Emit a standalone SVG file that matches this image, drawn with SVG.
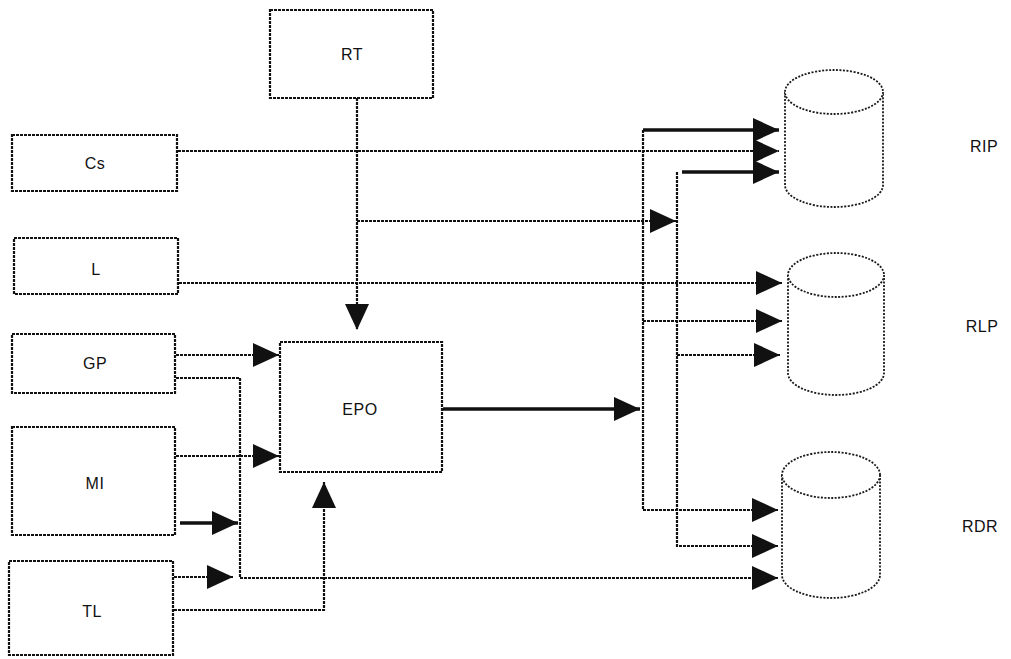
<svg xmlns="http://www.w3.org/2000/svg" width="1011" height="659" viewBox="0 0 1011 659">
<style>
.box{fill:#fff;stroke:#111;stroke-width:2.2;stroke-dasharray:3 1}
.cyl{fill:#fff;stroke:#1a1a1a;stroke-width:1.8;stroke-dasharray:2 1.5}
.ln{fill:none;stroke:#111;stroke-width:2.2;stroke-dasharray:3 1}
.thick{fill:none;stroke:#111;stroke-width:3.4}
.lbl{font-family:"Liberation Sans",Arial,sans-serif;font-size:16px;fill:#111;text-anchor:middle;letter-spacing:0.5px}
</style>
<defs>
<marker id="ah" viewBox="0 0 26 24" refX="26" refY="12" markerWidth="26" markerHeight="24" markerUnits="userSpaceOnUse" orient="auto">
<path d="M0,0 L26,12 L0,24 z" fill="#111"/>
</marker>
</defs>
<rect width="1011" height="659" fill="#fff"/>
<g id="connectors">
<path class="ln" d="M357,98 V330" marker-end="url(#ah)"/>
<path class="ln" d="M357,221 H676" marker-end="url(#ah)"/>
<path class="ln" d="M178,151 H779" marker-end="url(#ah)"/>
<path class="ln" d="M179,283 H782" marker-end="url(#ah)"/>
<path class="ln" d="M176,355 H279" marker-end="url(#ah)"/>
<path class="ln" d="M176,378 H240 V578 H778" marker-end="url(#ah)"/>
<path class="ln" d="M176,456 H279" marker-end="url(#ah)"/>
<path class="thick" d="M180,523 H238" marker-end="url(#ah)"/>
<path class="ln" d="M174,577 H233" marker-end="url(#ah)"/>
<path class="ln" d="M174,610 H324 V482" marker-end="url(#ah)"/>
<path class="thick" d="M443,409 H640" marker-end="url(#ah)"/>
<path class="thick" d="M643,130 H779" marker-end="url(#ah)"/>
<path class="ln" d="M643,130 V510 H778" marker-end="url(#ah)"/>
<path class="ln" d="M643,321 H782" marker-end="url(#ah)"/>
<path class="ln" d="M677,172 V546 H778" marker-end="url(#ah)"/>
<path class="thick" d="M682,172 H779" marker-end="url(#ah)"/>
<path class="ln" d="M677,355 H780" marker-end="url(#ah)"/>
</g>
<g id="RT"><rect class="box" x="270" y="10" width="163" height="88"/><text class="lbl" x="352" y="60">RT</text></g>
<g id="Cs"><rect class="box" x="12" y="135" width="165" height="56"/><text class="lbl" x="95" y="169">Cs</text></g>
<g id="L"><rect class="box" x="14" y="238" width="164" height="56"/><text class="lbl" x="96" y="275">L</text></g>
<g id="GP"><rect class="box" x="12" y="334" width="163" height="59"/><text class="lbl" x="95" y="369">GP</text></g>
<g id="MI"><rect class="box" x="12" y="427" width="163" height="108"/><text class="lbl" x="95" y="489">MI</text></g>
<g id="TL"><rect class="box" x="9" y="561" width="164" height="94"/><text class="lbl" x="92" y="617">TL</text></g>
<g id="EPO"><rect class="box" x="280" y="342" width="162" height="130"/><text class="lbl" x="360" y="415">EPO</text></g>
<g id="RIP">
<path class="cyl" d="M785,92 V185 A49,22 0 0 0 883,185 V92"/>
<ellipse class="cyl" cx="834" cy="92" rx="49" ry="22"/>
<text class="lbl" x="984" y="152">RIP</text>
</g>
<g id="RLP">
<path class="cyl" d="M788,275 V373 A48,22 0 0 0 884,373 V275"/>
<ellipse class="cyl" cx="836" cy="275" rx="48" ry="22"/>
<text class="lbl" x="982" y="332">RLP</text>
</g>
<g id="RDR">
<path class="cyl" d="M782,475 V575 A49,23 0 0 0 880,575 V475"/>
<ellipse class="cyl" cx="831" cy="475" rx="49" ry="23"/>
<text class="lbl" x="980" y="532">RDR</text>
</g>
</svg>
